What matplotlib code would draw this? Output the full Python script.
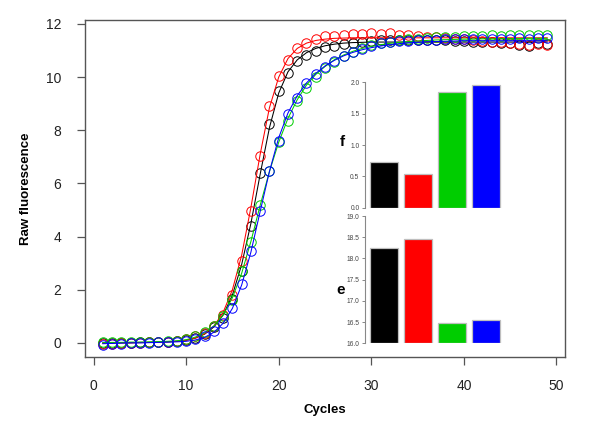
import matplotlib
matplotlib.use("Agg")
import matplotlib.pyplot as plt
import numpy as np

plt.rcParams['font.family'] = ['Liberation Sans', 'DejaVu Sans']

cycles = list(range(1, 50))

black_pts = [0.00, -0.01, 0.00, 0.01, 0.02, 0.03, 0.04, 0.05, 0.07,
             0.12, 0.20, 0.33, 0.58, 0.93, 1.65, 2.72, 4.40, 6.38, 8.23,
             9.46, 10.15, 10.62, 10.84, 10.99, 11.13, 11.19, 11.25, 11.30, 11.33,
             11.36, 11.38, 11.40, 11.41, 11.40, 11.40, 11.39, 11.38, 11.38, 11.36,
             11.35, 11.34, 11.33, 11.32, 11.30, 11.29, 11.22, 11.18, 11.27, 11.25]
red_pts = [-0.05, -0.03, -0.02, 0.00, 0.01, 0.02, 0.03, 0.05, 0.07,
           0.13, 0.25, 0.38, 0.63, 1.05, 1.82, 3.10, 4.95, 7.02, 8.91,
           10.05, 10.65, 11.08, 11.28, 11.44, 11.54, 11.55, 11.60, 11.62, 11.64,
           11.66, 11.62, 11.66, 11.60, 11.58, 11.55, 11.52, 11.50, 11.47, 11.45,
           11.42, 11.40, 11.36, 11.33, 11.32, 11.28, 11.25, 11.22, 11.25, 11.20]
green_pts = [0.02, 0.02, 0.02, 0.03, 0.03, 0.04, 0.05, 0.06, 0.08,
             0.15, 0.25, 0.41, 0.62, 1.00, 1.62, 2.70, 3.80, 5.18, 6.45,
             7.56, 8.35, 9.11, 9.59, 10.00, 10.35, 10.56, 10.78, 10.95, 11.08,
             11.20, 11.28, 11.33, 11.38, 11.42, 11.45, 11.47, 11.50, 11.50, 11.52,
             11.53, 11.55, 11.53, 11.57, 11.56, 11.58, 11.57, 11.60, 11.58, 11.60]
blue_pts = [-0.07, -0.05, -0.03, -0.01, 0.00, 0.01, 0.02, 0.04, 0.05,
            0.08, 0.14, 0.25, 0.45, 0.76, 1.33, 2.20, 3.45, 4.95, 6.48,
            7.61, 8.61, 9.21, 9.77, 10.13, 10.38, 10.62, 10.78, 10.94, 11.07,
            11.19, 11.28, 11.33, 11.35, 11.36, 11.38, 11.40, 11.40, 11.42, 11.42,
            11.43, 11.44, 11.43, 11.45, 11.45, 11.44, 11.46, 11.45, 11.46, 11.47]

black_fit = [0.00, 0.00, 0.01, 0.01, 0.02, 0.02, 0.03, 0.04, 0.06,
             0.10, 0.18, 0.33, 0.60, 1.05, 1.80, 2.95, 4.50, 6.35, 8.10,
             9.40, 10.20, 10.65, 10.92, 11.08, 11.18, 11.24, 11.28, 11.30, 11.31,
             11.32, 11.32, 11.32, 11.32, 11.32, 11.32, 11.32, 11.32, 11.32, 11.32,
             11.32, 11.32, 11.32, 11.32, 11.32, 11.32, 11.32, 11.32, 11.32, 11.32]
red_fit = [-0.02, -0.01, 0.00, 0.00, 0.01, 0.02, 0.03, 0.04, 0.06,
           0.10, 0.18, 0.34, 0.63, 1.15, 2.00, 3.30, 5.10, 7.10, 8.85,
           10.00, 10.70, 11.08, 11.28, 11.38, 11.43, 11.46, 11.47, 11.48, 11.48,
           11.48, 11.48, 11.48, 11.48, 11.48, 11.48, 11.48, 11.48, 11.48, 11.48,
           11.48, 11.48, 11.48, 11.48, 11.48, 11.48, 11.48, 11.48, 11.48, 11.48]
green_fit = [0.01, 0.02, 0.02, 0.03, 0.03, 0.04, 0.05, 0.06, 0.08,
             0.12, 0.22, 0.38, 0.64, 1.05, 1.70, 2.62, 3.82, 5.18, 6.45,
             7.55, 8.45, 9.15, 9.70, 10.10, 10.40, 10.65, 10.83, 10.97, 11.08,
             11.16, 11.22, 11.27, 11.31, 11.34, 11.36, 11.38, 11.40, 11.41, 11.42,
             11.43, 11.43, 11.44, 11.44, 11.45, 11.45, 11.45, 11.46, 11.46, 11.46]
blue_fit = [-0.03, -0.02, -0.01, 0.00, 0.00, 0.01, 0.02, 0.03, 0.04,
            0.06, 0.11, 0.21, 0.40, 0.74, 1.30, 2.18, 3.42, 4.95, 6.45,
            7.72, 8.65, 9.30, 9.78, 10.14, 10.42, 10.63, 10.80, 10.93, 11.03,
            11.11, 11.17, 11.22, 11.26, 11.29, 11.31, 11.33, 11.34, 11.35, 11.36,
            11.37, 11.37, 11.37, 11.37, 11.37, 11.37, 11.37, 11.37, 11.37, 11.37]

f_values = [0.73, 0.53, 1.85, 1.95]
e_values = [18.25, 18.46, 16.47, 16.56]

colors = ['black', '#FF0000', '#00CD00', '#0000FF']
x_ticks = [0, 10, 20, 30, 40, 50]
y_ticks = [0, 2, 4, 6, 8, 10, 12]
f_ticks = [0.0, 0.5, 1.0, 1.5, 2.0]
e_ticks = [16.0, 16.5, 17.0, 17.5, 18.0, 18.5, 19.0]

W, H = 600, 424
fig = plt.figure(figsize=(6.0, 4.24), dpi=100)

def fig_rect(x0, y0, x1, y1):
    return [x0 / W, 1 - y1 / H, (x1 - x0) / W, (y1 - y0) / H]

ax = fig.add_axes(fig_rect(85, 20, 565, 357))
pts = [black_pts, red_pts, green_pts, blue_pts]
fits = [black_fit, red_fit, green_fit, blue_fit]
for p, f, c in zip(pts, fits, colors):
    ax.plot(cycles, p, linestyle='none', marker='o', markersize=6.8,
            markerfacecolor='none', markeredgecolor=c, markeredgewidth=0.7)
    ax.plot(cycles, f, color=c, linewidth=0.75)

ax.set_xlim(-0.92, 50.92)
ax.set_ylim(-0.53, 12.15)
ax.set_xticks(x_ticks)
ax.set_yticks(y_ticks)
ax.set_xticklabels([str(t) for t in x_ticks])
ax.set_yticklabels([str(t) for t in y_ticks])
for s in ax.spines.values():
    s.set_color('#555555')
    s.set_linewidth(1.0)
ax.tick_params(direction='out', length=6, width=0.9, color='#555555',
               labelsize=10, labelcolor='#222222')
ax.tick_params(axis='x', pad=10)
ax.tick_params(axis='y', pad=11)
ax.set_xlabel('Cycles', fontsize=9.5, fontweight='bold', labelpad=8)
ax.set_ylabel('Raw fluorescence', fontsize=9.5, fontweight='bold', labelpad=10)

pos = [0, 1, 2, 3]

def inset(rect, vals, ylim, ticks):
    a = fig.add_axes(rect)
    a.bar(pos, [v - ylim[0] for v in vals], bottom=ylim[0], width=0.84,
          color=colors, edgecolor='#BEBEBE', linewidth=0.9)
    a.set_xlim(-0.57, 3.57)
    a.set_ylim(*ylim)
    a.set_yticks(ticks)
    a.set_yticklabels(['%.1f' % t for t in ticks])
    for k in ['top', 'right', 'bottom']:
        a.spines[k].set_visible(False)
    a.spines['left'].set_color('#888888')
    a.spines['left'].set_linewidth(0.8)
    a.spines['left'].set_bounds(ylim[0], ylim[1])
    a.set_xticks([])
    a.tick_params(axis='y', direction='out', length=2.5, width=0.7,
                  color='#888888', labelsize=4.8, labelcolor='#444444', pad=1.5)
    a.patch.set_alpha(0)
    return a

inset(fig_rect(365, 82.3, 505, 207.7), f_values, (0.0, 2.0), f_ticks)
inset(fig_rect(365, 216, 505, 343.3), e_values, (16.0, 19.0), e_ticks)

fig.text(342 / W, 1 - 142 / H, 'f', fontsize=11, fontweight='bold',
         ha='center', va='center')
fig.text(341 / W, 1 - 290 / H, 'e', fontsize=11, fontweight='bold',
         ha='center', va='center')

fig.savefig('out.png', dpi=100)
